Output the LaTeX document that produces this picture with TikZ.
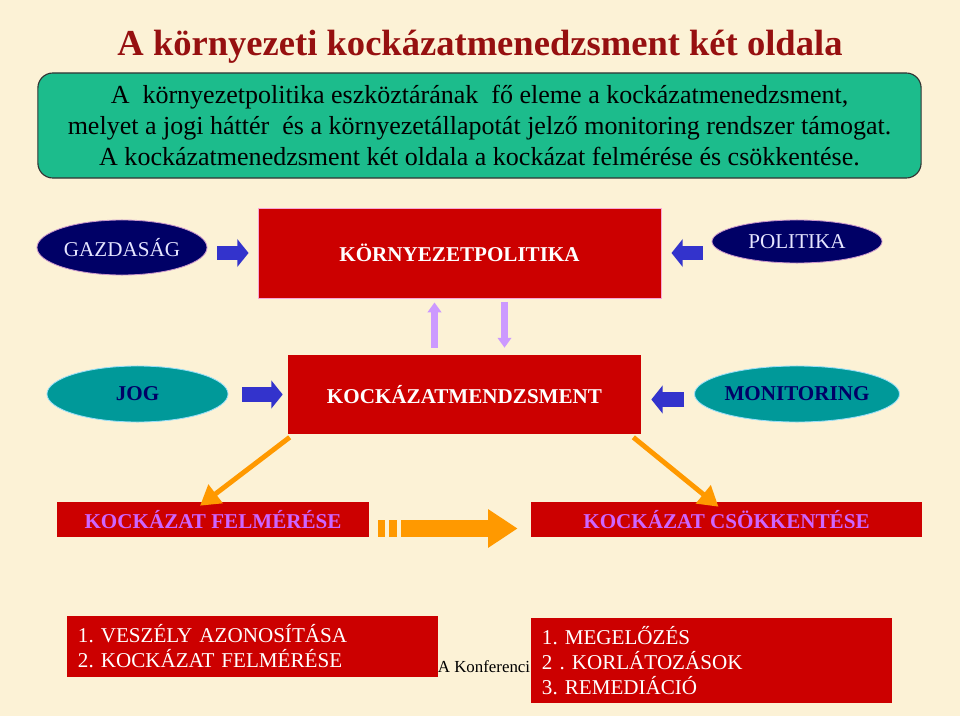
\documentclass[tikz,border=0pt]{standalone}
\usepackage{fontspec}
\setmainfont{Liberation Serif}
\newfontfamily\slideserif{Liberation Serif}
\usetikzlibrary{arrows.meta, shapes.geometric, calc}

\definecolor{bgcream}{RGB}{252,242,214}
\definecolor{titlered}{RGB}{150,16,16}
\definecolor{introgreen}{RGB}{28,188,140}
\definecolor{navyfill}{RGB}{0,0,102}
\definecolor{tealfill}{RGB}{0,153,153}
\definecolor{boxred}{RGB}{204,0,0}
\definecolor{arrblue}{RGB}{51,51,204}
\definecolor{lilac}{RGB}{204,153,255}
\definecolor{arrorange}{RGB}{255,153,0}
\definecolor{violettext}{RGB}{204,102,255}

\begin{document}
\frenchspacing
\begin{tikzpicture}[x=0.025cm, y=-0.025cm,
  heading/.style={font=\fontsize{26}{30}\selectfont\bfseries, text=titlered},
  introbox/.style={rectangle, rounded corners=0.375cm, draw=black!80, line width=0.8pt, fill=introgreen,
    minimum width=22.075cm, minimum height=2.625cm, align=center, font=\slideserif\fontsize{18.5}{22}\selectfont},
  oval/.style={ellipse, inner sep=0pt, line width=0.6pt, minimum width=4.25cm, font=\fontsize{15}{18}\selectfont},
  darkoval/.style={oval, fill=navyfill, draw=violet!40, text=white!90!blue},
  tealoval/.style={oval, fill=tealfill, draw=cyan!40, text=navyfill, minimum width=4.525cm,
    minimum height=1.4cm, font=\fontsize{15}{18}\selectfont\bfseries},
  redbox/.style={rectangle, fill=boxred, inner sep=0pt, font=\fontsize{15}{18}\selectfont\bfseries},
  listbox/.style={rectangle, fill=boxred, inner xsep=0.275cm, inner ysep=0pt, align=left,
    text=white, font=\slideserif\fontsize{15}{17.8}\selectfont},
  blockarr/.style={draw=arrblue, line width=10.5pt, -{Triangle[length=8pt, width=19.5pt]}},
  lilacarr/.style={draw=lilac, line width=4.3pt, -{Triangle[length=7pt, width=9.5pt]}},
  slimarr/.style={draw=arrorange, line width=3.5pt, -{Triangle[length=14pt, width=16pt]}},
  bigarr/.style={draw=arrorange, line width=12.5pt, -{Triangle[length=21pt, width=26pt]},
    dash pattern=on 5pt off 2.8pt on 5.7pt off 2.8pt on 400pt off 0pt}
]
% background
\fill[bgcream] (0,0) rectangle (960,716);

% title and intro text
\node[heading] (title) at (480,47) {A környezeti kockázatmenedzsment két oldala};
\node[introbox] (intro) at (479.5,125.5) {A\ \ környezetpolitika eszköztárának\ \ fő eleme a kockázatmenedzsment,\\
  melyet a jogi háttér\ \ és a környezetállapotát jelző monitoring rendszer támogat.\\
  A kockázatmenedzsment két oldala a kockázat felmérése és csökkentése.};

% upper row
\node[darkoval, minimum height=1.375cm] (gazd) at (122,247.5) {GAZDASÁG};
\node[redbox, draw=magenta!35, line width=0.6pt, text=white, minimum width=10.075cm, minimum height=2.25cm] (korny) at (459.5,253) {KÖRNYEZETPOLITIKA};
\node[darkoval, minimum height=1.075cm] (pol) at (797,241.5) {POLITIKA};

% middle row
\node[tealoval] (jog) at (137.5,394) {JOG};
\node[redbox, text=white, minimum width=8.825cm, minimum height=1.975cm] (kock) at (464.5,394.5) {KOCKÁZATMENDZSMENT};
\node[tealoval, minimum width=4.25cm] (mon) at (797,394) {MONITORING};

% two sides
\node[redbox, text=violettext, minimum width=7.8cm, minimum height=0.875cm] (felm) at (213,519.5) {KOCKÁZAT FELMÉRÉSE};
\node[redbox, text=violettext, minimum width=9.775cm, minimum height=0.875cm] (csok) at (726.5,519.5) {KOCKÁZAT CSÖKKENTÉSE};

% footer, partly hidden
\node[font=\fontsize{12}{14}\selectfont] (konf) at (484,667) {A Konferenci};

% lists
\node[listbox, text width=8.725cm, minimum height=1.525cm] (veszely) at (252.5,646.5)
  {1. VESZÉLY AZONOSÍTÁSA\\2. KOCKÁZAT FELMÉRÉSE};
\node[listbox, text width=8.475cm, minimum height=2.125cm] (megel) at (711.5,660.5)
  {1. MEGELŐZÉS\\2 . KORLÁTOZÁSOK\\3. REMEDIÁCIÓ};

% arrows
\draw[blockarr, shorten <=0.25cm, shorten >=0.225cm] (gazd.east |- korny) -- (korny.west);
\draw[blockarr, shorten <=0.225cm, shorten >=0.25cm] (pol.west |- korny) -- (korny.east);
\draw[blockarr, shorten <=0.35cm, shorten >=0.125cm] (jog.east |- kock) -- (kock.west);
\draw[blockarr, shorten <=0.25cm, shorten >=0.25cm] ($(mon.west |- kock)+(0,5)$) -- ($(kock.east)+(0,5)$);

\coordinate (upfoot) at ($(kock.north)+(-30,0)$);
\coordinate (downtip) at ($(kock.north)+(40,0)$);
\draw[lilacarr, shorten <=0.175cm, shorten >=0.1cm] (upfoot) -- (upfoot |- korny.south);
\draw[lilacarr, shorten <=0.1cm, shorten >=0.175cm] (downtip |- korny.south) -- (downtip);

\draw[slimarr] ($(kock.south west)+(2,3)$) -- ($(felm.north)+(-13,4)$);
\draw[slimarr] ($(kock.south east)+(-8,3)$) -- ($(csok.north)+(-8,5)$);

\draw[bigarr, shorten <=0.225cm, shorten >=0.325cm] ($(felm.east)+(0,9)$) -- ($(csok.west)+(0,9)$);
\end{tikzpicture}
\end{document}
